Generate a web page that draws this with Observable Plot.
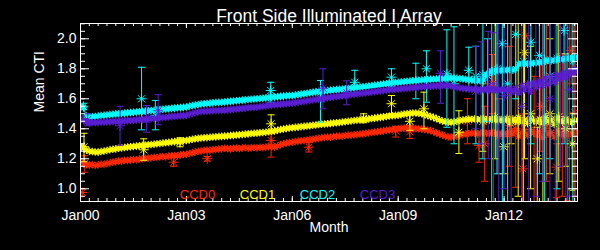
<!DOCTYPE html>
<html>
<head>
<meta charset="utf-8">
<script src="https://cdn.jsdelivr.net/npm/d3@7"></script>
<script src="https://cdn.jsdelivr.net/npm/@observablehq/plot@0.6"></script>
<style>
  html, body { margin: 0; padding: 0; background: #000; }
  #chart { width: 600px; height: 250px; }
</style>
</head>
<body>
<div id="chart"></div>
<script>
// ---------- data ----------
const title = "Front Side Illuminated I Array";
const yTitle = "Mean CTI";
const xTitle = "Month";
const seriesNames = ["CCD0", "CCD1", "CCD2", "CCD3"];
const seriesColors = ["#ff2800", "#ffff00", "#00ffff", "#5a1ed2"];

const xTickYears = [2000, 2003, 2006, 2009, 2012];
const xTickLabels = ["Jan00", "Jan03", "Jan06", "Jan09", "Jan12"];
const yTickValues = [1.0, 1.2, 1.4, 1.6, 1.8, 2.0];
const firstYear = 2000;

// monthly values (one row per year, Jan..Dec)
const ccd0Band = [
  [1.175,1.165,1.160,1.158,1.162,1.155,1.160,1.165,1.162,1.170,1.172,1.178],
  [1.180,1.186,1.183,1.190,1.188,1.192,1.195,1.193,1.198,1.200,1.203,1.205],
  [1.205,1.210,1.208,1.213,1.215,1.212,1.218,1.220,1.222,1.220,1.226,1.228],
  [1.230,1.235,1.240,1.245,1.250,1.252,1.255,1.258,1.256,1.260,1.262,1.265],
  [1.265,1.270,1.268,1.266,1.270,1.272,1.268,1.272,1.275,1.270,1.273,1.275],
  [1.272,1.276,1.274,1.278,1.280,1.282,1.279,1.285,1.295,1.300,1.305,1.308],
  [1.310,1.315,1.318,1.320,1.322,1.325,1.328,1.330,1.333,1.336,1.340,1.342],
  [1.345,1.343,1.348,1.350,1.352,1.350,1.355,1.358,1.357,1.360,1.362,1.365],
  [1.366,1.370,1.372,1.375,1.378,1.380,1.383,1.386,1.390,1.392,1.395,1.398],
  [1.400,1.403,1.405,1.408,1.407,1.405,1.402,1.400,1.398,1.395,1.392,1.388],
  [1.380,1.372,1.365,1.358,1.350,1.345,1.344,1.348,1.352,1.358,1.362,1.366],
  [1.368,1.372,1.370,1.366,1.372,1.375,1.370,1.368,1.374,1.372,1.365,1.370],
  [1.372,1.360,1.380,1.365,1.390,1.350,1.375,1.385,1.355,1.395,1.370,1.360],
  [1.380,1.340,1.400,1.365,1.375,1.345,1.390,1.370,1.355,1.385,1.360,1.375],
  [1.370,1.380]
];
const ccd1Band = [
  [1.285,1.270,1.258,1.250,1.248,1.245,1.244,1.248,1.252,1.255,1.260,1.263],
  [1.266,1.270,1.272,1.275,1.278,1.280,1.282,1.284,1.287,1.289,1.291,1.293],
  [1.295,1.297,1.300,1.302,1.305,1.307,1.309,1.312,1.314,1.316,1.318,1.320],
  [1.322,1.326,1.330,1.333,1.336,1.338,1.340,1.341,1.343,1.345,1.346,1.348],
  [1.349,1.351,1.352,1.355,1.356,1.358,1.360,1.362,1.364,1.366,1.368,1.370],
  [1.371,1.373,1.375,1.377,1.380,1.383,1.386,1.390,1.395,1.398,1.402,1.405],
  [1.407,1.409,1.411,1.414,1.416,1.418,1.420,1.423,1.425,1.428,1.430,1.432],
  [1.433,1.436,1.438,1.440,1.442,1.445,1.447,1.450,1.452,1.455,1.457,1.459],
  [1.460,1.463,1.466,1.468,1.471,1.474,1.476,1.479,1.482,1.485,1.487,1.489],
  [1.490,1.494,1.498,1.500,1.503,1.505,1.505,1.503,1.500,1.495,1.488,1.482],
  [1.476,1.468,1.460,1.452,1.447,1.444,1.443,1.446,1.450,1.455,1.458,1.462],
  [1.465,1.462,1.467,1.460,1.464,1.468,1.462,1.458,1.465,1.460,1.455,1.462],
  [1.455,1.470,1.440,1.465,1.450,1.475,1.445,1.460,1.435,1.470,1.455,1.445],
  [1.465,1.440,1.475,1.450,1.460,1.430,1.470,1.455,1.445,1.465,1.450,1.440],
  [1.455,1.460]
];
const ccd2Band = [
  [1.550,1.540,1.485,1.478,1.480,1.482,1.485,1.488,1.490,1.492,1.495,1.497],
  [1.499,1.500,1.502,1.504,1.506,1.508,1.510,1.512,1.514,1.516,1.518,1.520],
  [1.522,1.524,1.526,1.528,1.530,1.532,1.534,1.536,1.538,1.540,1.541,1.543],
  [1.545,1.550,1.555,1.558,1.562,1.565,1.567,1.569,1.571,1.573,1.575,1.576],
  [1.577,1.579,1.581,1.583,1.585,1.587,1.589,1.591,1.593,1.595,1.597,1.599],
  [1.600,1.602,1.604,1.606,1.608,1.610,1.612,1.614,1.616,1.618,1.620,1.621],
  [1.622,1.625,1.628,1.631,1.634,1.637,1.640,1.643,1.646,1.649,1.651,1.653],
  [1.655,1.657,1.659,1.661,1.663,1.665,1.667,1.669,1.671,1.674,1.676,1.678],
  [1.680,1.682,1.685,1.687,1.690,1.692,1.695,1.698,1.700,1.703,1.705,1.708],
  [1.710,1.712,1.714,1.716,1.718,1.720,1.722,1.723,1.725,1.727,1.728,1.730],
  [1.730,1.732,1.734,1.735,1.737,1.738,1.740,1.738,1.736,1.735,1.733,1.730],
  [1.728,1.725,1.722,1.720,1.722,1.725,1.760,1.775,1.785,1.790,1.788,1.792],
  [1.790,1.792,1.795,1.790,1.800,1.830,1.832,1.835,1.830,1.838,1.835,1.840],
  [1.842,1.845,1.850,1.855,1.852,1.858,1.860,1.865,1.862,1.868,1.870,1.872],
  [1.875,1.878]
];
const ccd3Band = [
  [1.470,1.455,1.445,1.440,1.442,1.440,1.443,1.445,1.444,1.446,1.447,1.448],
  [1.448,1.450,1.451,1.453,1.454,1.456,1.457,1.459,1.461,1.462,1.464,1.466],
  [1.467,1.469,1.471,1.473,1.475,1.477,1.479,1.481,1.483,1.485,1.487,1.488],
  [1.490,1.496,1.502,1.508,1.512,1.515,1.517,1.518,1.519,1.520,1.521,1.522],
  [1.522,1.524,1.526,1.528,1.530,1.532,1.534,1.536,1.538,1.540,1.542,1.543],
  [1.544,1.547,1.550,1.553,1.556,1.558,1.560,1.562,1.564,1.566,1.568,1.570],
  [1.571,1.574,1.577,1.580,1.583,1.586,1.589,1.592,1.595,1.598,1.601,1.604],
  [1.607,1.610,1.612,1.615,1.617,1.620,1.622,1.625,1.628,1.630,1.633,1.635],
  [1.637,1.640,1.642,1.645,1.647,1.650,1.652,1.655,1.657,1.660,1.662,1.664],
  [1.665,1.667,1.669,1.671,1.672,1.674,1.676,1.678,1.680,1.681,1.683,1.684],
  [1.685,1.686,1.688,1.689,1.690,1.688,1.685,1.680,1.675,1.672,1.670,1.668],
  [1.666,1.664,1.665,1.662,1.660,1.663,1.661,1.658,1.662,1.660,1.658,1.660],
  [1.662,1.655,1.668,1.650,1.670,1.640,1.690,1.660,1.700,1.650,1.710,1.680],
  [1.720,1.690,1.740,1.700,1.750,1.710,1.760,1.730,1.770,1.740,1.780,1.760],
  [1.790,1.775]
];

// points with error bars: [decimal year, value, low, high]
const ccd0Err = [
  [2000.05,0.975,0.975,0.975],[2000.12,1.17,1.11,1.22],[2002.64,1.177,1.15,1.21],
  [2003.59,1.20,1.185,1.215],[2005.40,1.322,1.211,1.367],[2006.47,1.277,1.245,1.31],
  [2008.93,1.385,1.345,1.415],[2009.33,1.38,1.335,1.42],[2010.96,1.45,1.30,1.60],
  [2011.29,1.289,1.177,1.37],[2011.45,1.30,1.05,1.55],[2011.67,1.70,1.50,1.895],
  [2011.85,1.35,1.10,1.60],[2012.15,1.42,1.15,1.95],[2012.33,1.40,1.01,2.30],
  [2012.53,1.133,0.80,1.50],[2012.61,2.02,1.85,2.20],[2012.85,1.38,0.90,1.75],
  [2013.04,1.55,1.25,1.85],[2013.20,1.42,1.05,2.30],[2013.49,1.144,0.94,1.30],
  [2013.65,1.40,0.95,1.90],[2013.80,1.45,0.92,2.30],[2013.90,1.922,1.70,2.20],
  [2014.00,1.51,0.90,2.30]
];
const ccd1Err = [
  [2000.10,1.28,1.18,1.37],[2001.79,1.26,1.19,1.333],[2002.82,1.31,1.28,1.34],
  [2005.40,1.433,1.389,1.493],[2008.02,1.47,1.44,1.50],[2008.81,1.567,1.50,1.622],
  [2009.33,1.45,1.39,1.51],[2009.73,1.533,1.40,1.644],[2010.72,1.377,1.235,1.52],
  [2011.40,1.45,1.25,1.70],[2011.75,1.48,1.20,2.30],[2011.99,1.28,1.10,1.45],
  [2012.20,1.45,1.30,2.30],[2012.40,1.45,0.95,2.30],[2012.58,1.907,1.20,2.30],
  [2012.75,1.50,1.00,1.95],[2012.94,1.20,0.90,1.41],[2013.10,1.45,0.90,2.30],
  [2013.30,1.50,1.10,2.00],[2013.55,1.48,1.05,2.30],[2013.75,1.40,1.15,1.90],
  [2013.93,1.30,0.99,1.50]
];
const ccd2Err = [
  [2000.08,1.55,1.53,1.57],[2001.73,1.60,1.393,1.81],[2002.12,1.49,1.393,1.589],
  [2005.39,1.655,1.577,1.71],[2006.80,1.60,1.444,1.722],[2007.77,1.71,1.64,1.79],
  [2008.81,1.744,1.68,1.80],[2009.50,1.72,1.60,1.837],[2009.80,1.80,1.577,1.92],
  [2010.38,1.767,1.41,2.06],[2010.58,1.70,1.30,2.08],[2011.00,1.79,1.655,1.944],
  [2011.20,1.75,1.30,1.95],[2011.40,1.76,1.20,2.30],[2011.53,1.755,1.45,2.00],
  [2011.65,1.78,0.90,2.30],[2011.80,1.80,1.10,2.30],[2011.95,1.967,0.85,2.15],
  [2012.10,1.70,0.90,2.20],[2012.33,2.03,1.60,2.20],[2012.55,1.85,0.85,2.30],
  [2012.76,1.977,1.30,2.20],[2013.00,1.889,1.10,2.20],[2013.15,1.86,0.90,2.30],
  [2013.30,1.75,1.20,2.20],[2013.50,1.87,1.00,2.30],[2013.70,2.055,1.30,2.20],
  [2013.85,1.88,0.85,2.30],[2013.95,1.85,0.90,2.20]
];
const ccd3Err = [
  [2000.20,1.46,1.42,1.50],[2001.12,1.42,1.29,1.55],[2001.87,1.46,1.377,1.555],
  [2002.20,1.52,1.427,1.627],[2006.87,1.67,1.533,1.80],[2007.54,1.64,1.56,1.72],
  [2010.20,1.77,1.57,1.92],[2011.20,1.65,1.40,1.95],[2011.35,1.66,1.30,1.98],
  [2011.55,1.68,1.20,2.05],[2011.70,1.70,0.90,2.04],[2011.85,1.66,0.85,2.30],
  [2012.00,1.62,1.00,2.20],[2012.20,1.65,0.90,2.30],[2012.50,1.55,0.80,2.20],
  [2012.70,1.68,0.85,2.30],[2012.90,1.70,0.95,2.20],[2013.10,1.70,1.05,2.30],
  [2013.30,1.60,0.90,2.20],[2013.45,1.72,0.90,2.30],[2013.60,1.75,1.15,2.20],
  [2013.75,1.76,0.85,2.30],[2013.85,1.66,0.95,2.20],[2014.02,1.80,0.95,2.30]
];

// ---------- build ----------
const bands = [ccd0Band, ccd1Band, ccd2Band, ccd3Band].map(rows => {
  const out = [];
  rows.forEach((vals, yi) => vals.forEach((v, m) => out.push({t: firstYear + yi + m / 12, v})));
  return out;
});
const errs = [ccd0Err, ccd1Err, ccd2Err, ccd3Err].map(a =>
  a.map(([t, v, lo, hi]) => ({t, v, lo, hi})));

const asterisk = {
  draw(ctx, size) {
    const r = Math.sqrt(size / Math.PI), d = r * 0.7071;
    ctx.moveTo(-r, 0); ctx.lineTo(r, 0);
    ctx.moveTo(0, -r); ctx.lineTo(0, r);
    ctx.moveTo(-d, -d); ctx.lineTo(d, d);
    ctx.moveTo(-d, d); ctx.lineTo(d, -d);
  }
};
const cap = {
  draw(ctx, size) {
    const r = Math.sqrt(size / Math.PI);
    ctx.moveTo(-r, 0); ctx.lineTo(r, 0);
  }
};

const W = 600, H = 250, mL = 80, mR = 23, mT = 23, mB = 49;
const fw = W - mL - mR, fh = H - mT - mB;
const yMinor = d3.range(0.95, 2.101, 0.05);
const xMinor = d3.range(2000, 2014.1, 0.25);

const seriesMarks = [];
seriesNames.forEach((name, i) => {
  const c = seriesColors[i];
  seriesMarks.push(
    Plot.line(bands[i], {x: "t", y: "v", stroke: c, strokeWidth: 1, clip: true}),
    Plot.dot(bands[i], {x: "t", y: "v", symbol: asterisk, r: 3.8, stroke: c, strokeWidth: 1.1, fill: "none", clip: true}),
    Plot.ruleX(errs[i], {x: "t", y1: "lo", y2: "hi", stroke: c, strokeWidth: 1, clip: true}),
    Plot.dot(errs[i], {x: "t", y: "lo", symbol: cap, r: 3.5, stroke: c, strokeWidth: 1, clip: true}),
    Plot.dot(errs[i], {x: "t", y: "hi", symbol: cap, r: 3.5, stroke: c, strokeWidth: 1, clip: true}),
    Plot.dot(errs[i], {x: "t", y: "v", symbol: asterisk, r: 5, stroke: c, strokeWidth: 1, fill: "none", clip: true})
  );
});

const legendMarks = seriesNames.map((name, i) =>
  Plot.text([name], {text: d => d, frameAnchor: "bottom-left", dx: 117 + 60 * i, dy: -7,
    textAnchor: "middle", lineAnchor: "middle", fill: seriesColors[i], fontSize: 13}));

const chart = Plot.plot({
  width: W, height: H,
  marginLeft: mL, marginRight: mR, marginTop: mT, marginBottom: mB,
  style: {background: "#000", color: "#fff", fontFamily: "Liberation Sans, Arial, sans-serif", fontSize: "14px", overflow: "visible"},
  x: {domain: [2000, 2014.08]},
  y: {domain: [0.915, 2.102]},
  marks: [
    ...seriesMarks,
    // inward ticks
    Plot.tickY(yTickValues, {stroke: "#fff", insetRight: fw - 9}),
    Plot.tickY(yTickValues, {stroke: "#fff", insetLeft: fw - 9}),
    Plot.tickY(yMinor, {stroke: "#fff", insetRight: fw - 5}),
    Plot.tickY(yMinor, {stroke: "#fff", insetLeft: fw - 5}),
    Plot.tickX(xTickYears, {stroke: "#fff", insetTop: fh - 5}),
    Plot.tickX(xTickYears, {stroke: "#fff", insetBottom: fh - 5}),
    Plot.tickX(xMinor, {stroke: "#fff", insetTop: fh - 3}),
    Plot.tickX(xMinor, {stroke: "#fff", insetBottom: fh - 3}),
    Plot.frame({stroke: "#fff"}),
    Plot.axisY(yTickValues, {anchor: "left", tickSize: 0, tickPadding: 4, tickFormat: d => d.toFixed(1), label: null, fontSize: 14}),
    Plot.axisX(xTickYears, {anchor: "bottom", tickSize: 0, tickPadding: 9, tickFormat: d => xTickLabels[xTickYears.indexOf(d)], label: null, fontSize: 14}),
    Plot.text([yTitle], {text: d => d, frameAnchor: "left", dx: -41, rotate: -90, fill: "#fff", fontSize: 14}),
    Plot.text([xTitle], {text: d => d, frameAnchor: "bottom", dy: 30, fill: "#fff", fontSize: 14}),
    Plot.text([title], {text: d => d, frameAnchor: "top", dy: -13.5, fill: "#fff", fontSize: 17.5}),
    ...legendMarks
  ]
});
document.getElementById("chart").appendChild(chart);
</script>
</body>
</html>
